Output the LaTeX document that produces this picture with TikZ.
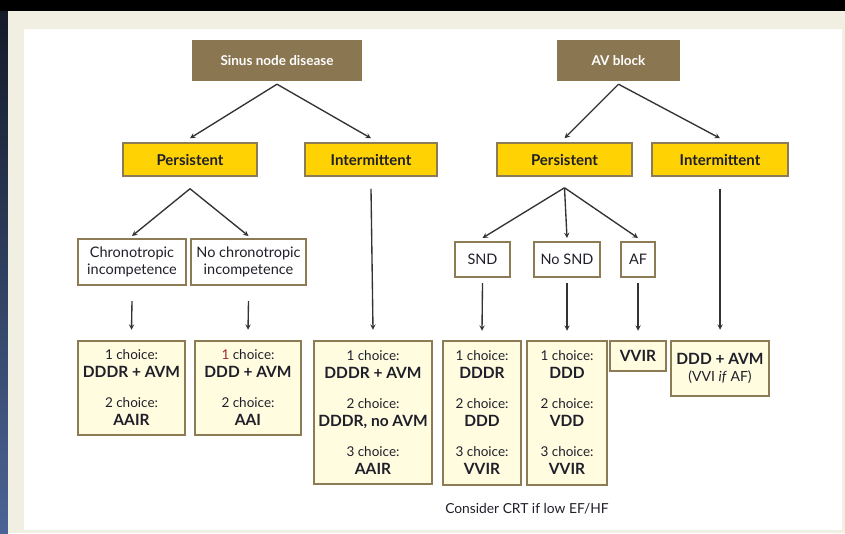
\documentclass[tikz,border=0pt]{standalone}
\usepackage{fontspec}
\setmainfont{Lato}
\usepackage{xcolor}
\usepackage{tikz}

\definecolor{headbrown}{HTML}{8A7650}
\definecolor{boxedge}{HTML}{8C7B55}
\definecolor{gold}{HTML}{FFD204}
\definecolor{cream}{HTML}{FFFCE0}
\definecolor{framebg}{HTML}{F0EFE2}
\definecolor{inkdark}{HTML}{1F1F2A}
\definecolor{redone}{HTML}{A0282D}
\definecolor{stripdark}{HTML}{141A28}
\definecolor{stripblue}{HTML}{4B6496}

\newcommand{\pick}[1]{{\fontsize{15.5}{18}\selectfont\bfseries #1}}

\begin{document}
\begin{tikzpicture}[x=1pt, y=-1pt, node distance=99pt, every node/.style={text=inkdark}]
                \tikzstyle{head} = [rectangle, inner sep=0pt, minimum height=41pt, text centered, fill=headbrown, text=white, font=\fontsize{13.5}{16}\selectfont\bfseries]
                \tikzstyle{branch} = [rectangle, inner sep=0pt, minimum height=33pt, text centered, draw=boxedge, line width=1.5pt, fill=gold, font=\fontsize{15}{17}\selectfont\bfseries]
                \tikzstyle{cond} = [rectangle, inner sep=0pt, align=center, draw=boxedge, line width=2pt, fill=white, font=\fontsize{14.5}{17}\selectfont]
                \tikzstyle{choice} = [rectangle, inner sep=0pt, align=center, draw=boxedge, line width=2.5pt, fill=cream, font=\fontsize{13.5}{18}\selectfont]
                \tikzstyle{arrow} = [line width=1.35pt, draw=black!80, ->, >=stealth]

                % frame
                \fill[black] (0,0) rectangle (845,533);
                \shade[top color=stripdark, bottom color=stripblue] (0,11) rectangle (8,533);
                \fill[framebg] (8,11) rectangle (845,533);
                \fill[white] (24,29) rectangle (842,530);

                \node (sinus) [head, minimum width=170pt] at (277,60.5) {Sinus node disease};
                \node (avb) [head, minimum width=123pt, right of=sinus, xshift=242.5pt] {AV block};

                \node (pers1) [branch, minimum width=134pt, below of=sinus, xshift=-87pt] {Persistent};
                \node (int1) [branch, minimum width=132pt, below of=sinus, xshift=94pt] {Intermittent};
                \node (pers2) [branch, minimum width=135pt, below of=avb, xshift=-54pt] {Persistent};
                \node (int2) [branch, minimum width=136pt, below of=avb, xshift=101.5pt] {Intermittent};

                \node (chrono) [cond, minimum width=108pt, minimum height=46pt, below of=pers1, xshift=-58pt, yshift=-3.5pt] {Chronotropic\\incompetence};
                \node (nochrono) [cond, minimum width=115pt, minimum height=46pt, below of=pers1, xshift=58.5pt, yshift=-3.5pt] {No chronotropic\\incompetence};
                \node (snd) [cond, minimum width=55pt, minimum height=35pt, below of=pers2, xshift=-82pt, yshift=-1pt] {SND};
                \node (nosnd) [cond, minimum width=66pt, minimum height=35pt, below of=pers2, xshift=2.5pt, yshift=-1pt] {No SND};
                \node (af) [cond, minimum width=34pt, minimum height=35pt, below of=pers2, xshift=73.5pt, yshift=-1pt] {AF};

                \node (chA) [choice, minimum width=107pt, minimum height=94pt, below of=chrono, xshift=-0.5pt, yshift=-27pt] {1 choice:\\\pick{DDDR + AVM}\\[12pt]2 choice:\\\pick{AAIR}};
                \node (chB) [choice, minimum width=106pt, minimum height=94pt, below of=nochrono, xshift=-0.5pt, yshift=-27pt] {\textcolor{redone}{1} choice:\\\pick{DDD + AVM}\\[12pt]2 choice:\\\pick{AAI}};
                \node (chC) [choice, minimum width=118pt, minimum height=143pt, below of=int1, xshift=2pt, yshift=-154pt] {1 choice:\\\pick{DDDR + AVM}\\[12pt]2 choice:\\\pick{DDDR, no AVM}\\[12pt]3 choice:\\\pick{AAIR}};
                \node (chD) [choice, minimum width=78pt, minimum height=144pt, below of=snd, xshift=-0.5pt, yshift=-54.5pt] {1 choice:\\\pick{DDDR}\\[12pt]2 choice:\\\pick{DDD}\\[12pt]3 choice:\\\pick{VVIR}};
                \node (chE) [choice, minimum width=80pt, minimum height=144pt, below of=nosnd, yshift=-54.5pt] {1 choice:\\\pick{DDD}\\[12pt]2 choice:\\\pick{VDD}\\[12pt]3 choice:\\\pick{VVIR}};
                \node (chF) [choice, minimum width=56pt, minimum height=30pt, below of=af, yshift=2.5pt] {\pick{VVIR}};
                \node (chG) [choice, minimum width=98pt, minimum height=55pt, below of=int2, yshift=-110pt] {\pick{DDD + AVM}\\[-1pt]{\fontsize{14}{17}\selectfont (VVI \textit{if} AF)}};

                \node (crt) [font=\fontsize{13.8}{16}\selectfont, below of=chD, xshift=45pt, yshift=3pt] {Consider CRT if low EF/HF};

                \draw [arrow] ([yshift=-3pt]sinus.south) -- ([yshift=4pt]pers1.north);
                \draw [arrow] ([yshift=-3pt]sinus.south) -- ([yshift=4pt]int1.north);
                \draw [arrow] ([yshift=-3pt]avb.south) -- ([yshift=4pt]pers2.north);
                \draw [arrow] ([yshift=-3pt]avb.south) -- ([yshift=4pt]int2.north);

                \draw [arrow] ([yshift=-12pt]pers1.south) -- ([yshift=2pt]chrono.north);
                \draw [arrow] ([yshift=-12pt]pers1.south) -- ([yshift=2pt]nochrono.north);
                \draw [arrow] ([yshift=-11pt]pers2.south) -- ([yshift=3pt]snd.north);
                \draw [arrow] ([yshift=-11pt]pers2.south) -- ([yshift=3pt]nosnd.north);
                \draw [arrow] ([yshift=-11pt]pers2.south) -- ([yshift=3pt]af.north);

                \draw [arrow] ([yshift=-12pt]int1.south) -- ([yshift=10pt]chC.north);
                \draw [arrow] ([yshift=-12pt]int2.south) -- ([yshift=10pt]chG.north);
                \draw [arrow] ([yshift=-15pt]chrono.south) -- ([yshift=10pt]chA.north);
                \draw [arrow] ([yshift=-15pt]nochrono.south) -- ([yshift=10pt]chB.north);
                \draw [arrow] ([yshift=-5pt]snd.south) -- ([yshift=9pt]chD.north);
                \draw [arrow] ([yshift=-5pt]nosnd.south) -- ([yshift=9pt]chE.north);
                \draw [arrow] ([yshift=-5pt]af.south) -- ([yshift=9pt]chF.north);
            \end{tikzpicture}
\end{document}
